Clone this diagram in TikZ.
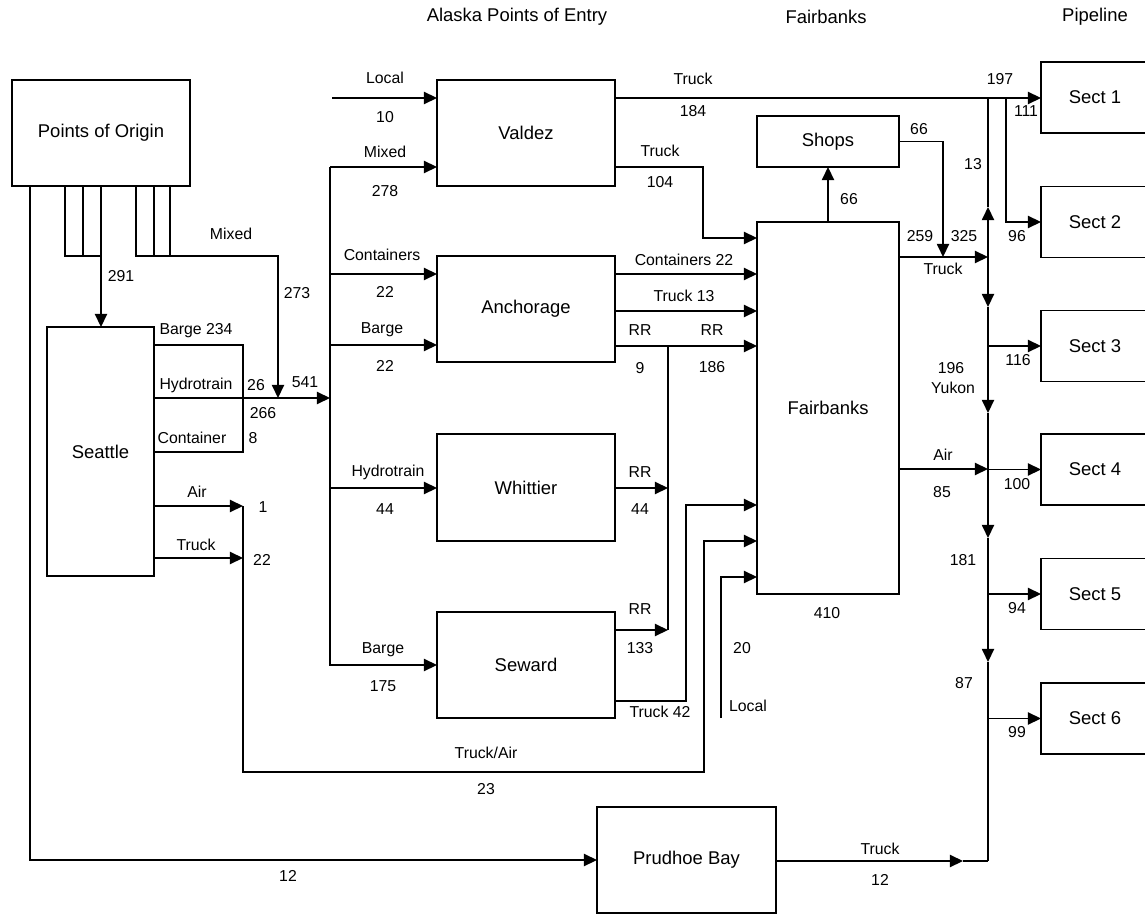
\documentclass[tikz,border=0pt]{standalone}
\usepackage{fontspec}
\setmainfont{Liberation Sans}
\usetikzlibrary{arrows.meta}

\begin{document}
\begin{tikzpicture}[x=0.02cm, y=-0.02cm,
        box/.style={draw, line width=0.8pt, outer sep=0pt, inner sep=0pt, font=\fontsize{10.5}{12}\selectfont},
        lbl/.style={inner sep=0pt, font=\fontsize{9}{10}\selectfont},
        ttl/.style={inner sep=0pt, font=\fontsize{10.5}{12}\selectfont},
        flow/.style={line width=0.8pt},
        arr/.style={line width=0.8pt, -{Triangle[length=7.5pt, width=7pt]}}]
    \useasboundingbox (0,0) rectangle (1145,915);
    % headings
    \node[ttl] (hentry) at (517,17) {Alaska Points of Entry};
    \node[ttl] (hfair) at (826,17) {Fairbanks};
    \node[ttl] (hpipe) at (1095,17) {Pipeline};
    % boxes
    \node[box, minimum width=3.56cm, minimum height=2.12cm] (origin) at (101,133) {Points of Origin};
    \node[box, minimum width=2.14cm, minimum height=4.98cm] (seattle) at (100.5,451.5) {Seattle};
    \node[box, minimum width=3.56cm, minimum height=2.12cm] (valdez) at (526,133) {Valdez};
    \node[box, minimum width=3.56cm, minimum height=2.12cm] (anch) at (526,309) {Anchorage};
    \node[box, minimum width=3.56cm, minimum height=2.14cm] (whit) at (526,487.5) {Whittier};
    \node[box, minimum width=3.56cm, minimum height=2.12cm] (sew) at (526,665) {Seward};
    \node[box, minimum width=2.84cm, minimum height=1.02cm] (shops) at (828,141.5) {Shops};
    \node[box, minimum width=2.84cm, minimum height=7.44cm] (fair) at (828,408) {Fairbanks};
    \node[box, minimum width=3.58cm, minimum height=2.12cm] (prudhoe) at (686.5,860) {Prudhoe Bay};
    \node[box, minimum width=2.16cm, minimum height=1.42cm] (sect1) at (1095,97.5) {Sect 1};
    \node[box, minimum width=2.16cm, minimum height=1.42cm] (sect2) at (1095,222) {Sect 2};
    \node[box, minimum width=2.16cm, minimum height=1.42cm] (sect3) at (1095,346) {Sect 3};
    \node[box, minimum width=2.16cm, minimum height=1.42cm] (sect4) at (1095,469.5) {Sect 4};
    \node[box, minimum width=2.16cm, minimum height=1.42cm] (sect5) at (1095,594) {Sect 5};
    \node[box, minimum width=2.16cm, minimum height=1.42cm] (sect6) at (1095,718.5) {Sect 6};
    \coordinate (loc1) at (332,98);
    \coordinate (loc2) at (721,718);
    % origin -> seattle, mixed
    \draw[flow] (origin.south -| 65,0) |- (101,256);
    \draw[flow] (origin.south -| 83,0) -- (83,256);
    \draw[arr] (origin.south -| 101,0) -- (seattle.north -| 101,0);
    \draw[arr] (origin.south -| 136,0) |- (278,256) -- (278,398);
    \draw[flow] (origin.south -| 154,0) -- (154,256);
    \draw[flow] (origin.south -| 170,0) -- (170,256);
    \draw[arr] (origin.south -| 30,0) |- (prudhoe.west);
    % seattle out
    \draw[flow] (seattle.east |- 0,345) -| (243,452) -- (seattle.east |- 0,452);
    \draw[arr] (seattle.east |- 0,398) -- (330,398);
    \draw[arr] (seattle.east |- 0,506) -- (243,506);
    \draw[arr] (seattle.east |- 0,558) -- (243,558);
    \draw[arr] (243,506) -- (243,772) -| (704,541) -- (fair.west |- 0,541);
    % points of entry in
    \draw[arr] (loc1) -- (valdez.west |- loc1);
    \draw[arr] (330,167) -- (330,665) -- (sew.west);
    \draw[arr] (330,167) -- (valdez.west |- 0,167);
    \draw[arr] (330,274) -- (anch.west |- 0,274);
    \draw[arr] (330,345) -- (anch.west |- 0,345);
    \draw[arr] (330,488) -- (whit.west |- 0,488);
    % points of entry out
    \draw[arr] (valdez.east |- 0,98) -- (sect1.west |- 0,98);
    \draw[arr] (valdez.east |- 0,167) -| (703,238) -- (fair.west |- 0,238);
    \draw[arr] (anch.east |- 0,274) -- (fair.west |- 0,274);
    \draw[arr] (anch.east |- 0,311) -- (fair.west |- 0,311);
    \draw[arr] (anch.east |- 0,346) -- (fair.west |- 0,346);
    \draw[flow] (668,346) -- (668,630);
    \draw[arr] (whit.east |- 0,488) -- (668,488);
    \draw[arr] (sew.east |- 0,630) -- (668,630);
    \draw[arr] (sew.east |- 0,701) -| (686,505) -- (fair.west |- 0,505);
    \draw[arr] (loc2) |- (fair.west |- 0,577);
    % fairbanks out
    \draw[arr] (fair.north) -- (shops.south);
    \draw[arr] (shops.east) -| (943,257);
    \draw[arr] (fair.east |- 0,257) -- (988,257);
    \draw[arr] (fair.east |- 0,469) -- (988,469);
    \draw[arr] (prudhoe.east |- 0,861) -- (963,861);
    \draw[flow] (963,861) -- (988,861);
    % pipeline
    \draw[arr] (988,257) -- (988,207);
    \draw[flow] (988,207) -- (988,98);
    \draw[arr] (988,257) -- (988,307);
    \draw[flow] (988,307) -- (988,346);
    \draw[arr] (988,346) -- (988,413);
    \draw[flow] (988,413) -- (988,469);
    \draw[arr] (988,469) -- (988,538);
    \draw[flow] (988,538) -- (988,594);
    \draw[arr] (988,594) -- (988,662);
    \draw[flow] (988,662) -- (988,861);
    \draw[arr] (1006,98) |- (sect2.west);
    \draw[arr] (sect3.west -| 988,0) -- (sect3.west);
    \draw[arr] (sect4.west -| 988,0) -- (sect4.west);
    \draw[arr] (sect5.west -| 988,0) -- (sect5.west);
    \draw[arr] (sect6.west -| 988,0) -- (sect6.west);
    % labels
    \node[lbl] at (231,234) {Mixed};
    \node[lbl] at (121,276) {291};
    \node[lbl] at (297,293) {273};
    \node[lbl] at (196,331) {Barge 234};
    \node[lbl] at (196,385) {Hydrotrain};
    \node[lbl] at (256,385) {26};
    \node[lbl] at (305,382) {541};
    \node[lbl] at (263,413) {266};
    \node[lbl] at (192,438) {Container};
    \node[lbl] at (253,438) {8};
    \node[lbl] at (197,492) {Air};
    \node[lbl] at (263,507) {1};
    \node[lbl] at (196,545) {Truck};
    \node[lbl] at (262,560) {22};
    \node[lbl] at (385,78) {Local};
    \node[lbl] at (385,117) {10};
    \node[lbl] at (385,152) {Mixed};
    \node[lbl] at (385,191) {278};
    \node[lbl] at (382,255) {Containers};
    \node[lbl] at (385,292) {22};
    \node[lbl] at (382,330) {Barge};
    \node[lbl] at (385,366) {22};
    \node[lbl] at (388,472) {Hydrotrain};
    \node[lbl] at (385,509) {44};
    \node[lbl] at (383,650) {Barge};
    \node[lbl] at (383,686) {175};
    \node[lbl] at (693,79) {Truck};
    \node[lbl] at (693,111) {184};
    \node[lbl] at (660,151) {Truck};
    \node[lbl] at (660,182) {104};
    \node[lbl] at (684,260) {Containers 22};
    \node[lbl] at (684,296) {Truck 13};
    \node[lbl] at (640,330) {RR};
    \node[lbl] at (712,330) {RR};
    \node[lbl] at (640,368) {9};
    \node[lbl] at (712,367) {186};
    \node[lbl] at (640,472) {RR};
    \node[lbl] at (640,509) {44};
    \node[lbl] at (640,609) {RR};
    \node[lbl] at (640,648) {133};
    \node[lbl] at (660,712) {Truck 42};
    \node[lbl] at (742,648) {20};
    \node[lbl] at (748,706) {Local};
    \node[lbl] at (827,613) {410};
    \node[lbl] at (849,199) {66};
    \node[lbl] at (919,129) {66};
    \node[lbl] at (920,236) {259};
    \node[lbl] at (964,236) {325};
    \node[lbl] at (943,269) {Truck};
    \node[lbl] at (1000,79) {197};
    \node[lbl] at (1026,111) {111};
    \node[lbl] at (973,164) {13};
    \node[lbl] at (1017,236) {96};
    \node[lbl] at (1018,360) {116};
    \node[lbl] at (951,368) {196};
    \node[lbl] at (953,388) {Yukon};
    \node[lbl] at (943,455) {Air};
    \node[lbl] at (942,492) {85};
    \node[lbl] at (1017,484) {100};
    \node[lbl] at (963,560) {181};
    \node[lbl] at (1017,608) {94};
    \node[lbl] at (964,683) {87};
    \node[lbl] at (1017,732) {99};
    \node[lbl] at (486,753) {Truck/Air};
    \node[lbl] at (486,789) {23};
    \node[lbl] at (288,876) {12};
    \node[lbl] at (880,849) {Truck};
    \node[lbl] at (880,880) {12};
\end{tikzpicture}
\end{document}
